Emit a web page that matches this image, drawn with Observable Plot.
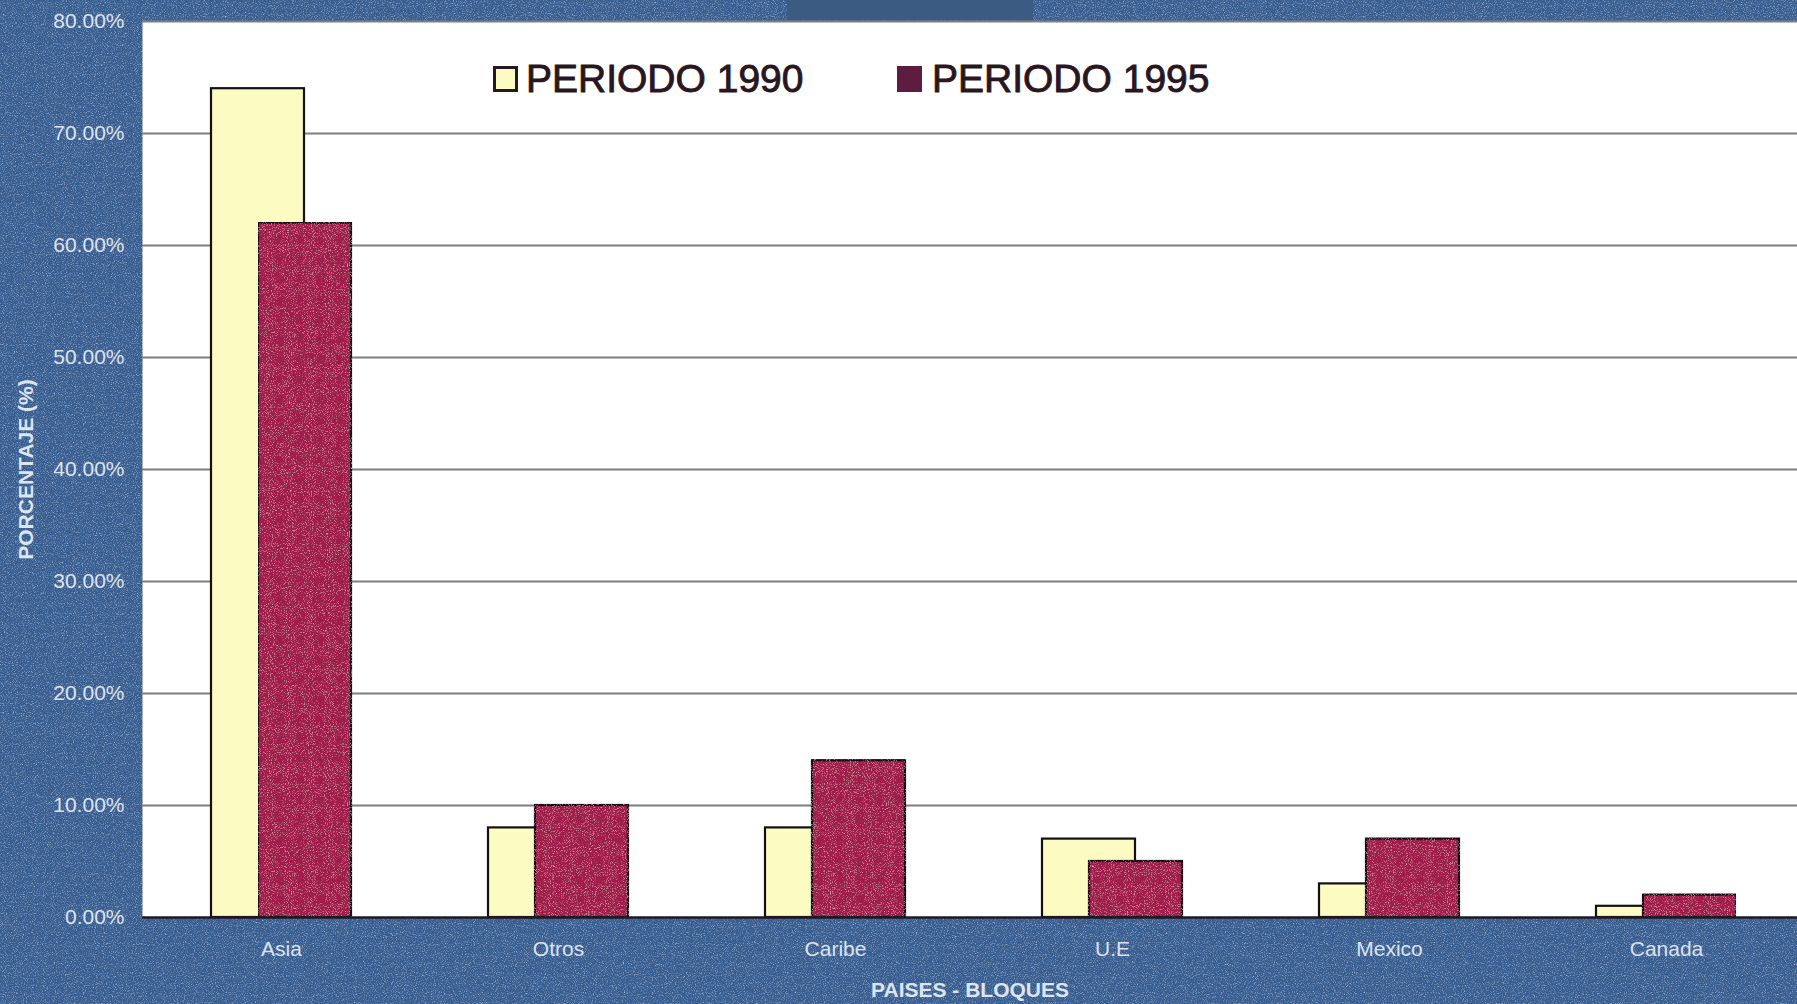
<!DOCTYPE html>
<html>
<head>
<meta charset="utf-8">
<script src="https://cdn.jsdelivr.net/npm/d3@7"></script>
<script src="https://cdn.jsdelivr.net/npm/@observablehq/plot@0.6"></script>
<style>
  html, body { margin: 0; padding: 0; width: 1797px; height: 1004px; overflow: hidden; background: #365d91; }
  #page { position: relative; width: 1797px; height: 1004px; }
  #bg { position: absolute; left: 0; top: 0; }
  #tab { position: absolute; left: 787px; top: 0; width: 246px; height: 20px; background: #3b5b82; }
  #chart { position: absolute; left: 0; top: 0; }
  #chart g[aria-label="y-axis label"] text,
  #chart g[aria-label="x-axis label"] text { font-weight: bold; font-size: 21px; fill: #dfe5ee; }
  .legend { position: absolute; top: 0; left: 0; font-family: "Liberation Sans", Arial, sans-serif; }
  .swatch { position: absolute; width: 19px; height: 20px; border: 3px solid #241a1f; }
  .ltext { position: absolute; font-size: 39px; line-height: 39px; color: #2a1620; -webkit-text-stroke: 0.9px #2a1620; white-space: nowrap; }
</style>
</head>
<body>
<div id="page">
  <svg id="bg" width="1797" height="1004">
    <defs>
      <filter id="grainLight" x="0" y="0" width="100%" height="100%">
        <feTurbulence type="fractalNoise" baseFrequency="0.9" numOctaves="2" seed="7"/>
        <feColorMatrix type="matrix" values="0 0 0 0 0.85  0 0 0 0 0.9  0 0 0 0 1  2.6 0 0 0 -1.25"/>
      </filter>
      <filter id="grainDark" x="0" y="0" width="100%" height="100%">
        <feTurbulence type="fractalNoise" baseFrequency="0.8" numOctaves="2" seed="19"/>
        <feColorMatrix type="matrix" values="0 0 0 0 0.06  0 0 0 0 0.12  0 0 0 0 0.26  2.6 0 0 0 -1.15"/>
      </filter>
      <!-- speckled print texture for the dark red bars -->
      <filter id="barGrain" x="0" y="0" width="100%" height="100%">
        <feTurbulence type="fractalNoise" baseFrequency="0.95" numOctaves="2" seed="31" result="noise"/>
        <feColorMatrix in="noise" type="matrix" values="0 0 0 0 0.85  0 0 0 0 0.5  0 0 0 0 0.6  2.2 0 0 0 -1.2" result="specks"/>
        <feComposite in="specks" in2="SourceGraphic" operator="in" result="clipped"/>
        <feMerge><feMergeNode in="SourceGraphic"/><feMergeNode in="clipped"/></feMerge>
      </filter>
    </defs>
    <rect width="1797" height="1004" fill="#365d91"/>
    <rect width="1797" height="1004" filter="url(#grainLight)" opacity="0.6"/>
    <rect width="1797" height="1004" filter="url(#grainDark)" opacity="0.75"/>
  </svg>
  <div id="tab"></div>
  <div id="chart"></div>
  <div class="legend" id="legend"></div>
</div>
<script>
// Share of each country / bloc, in percent
const categories = ["Asia", "Otros", "Caribe", "U.E", "Mexico", "Canada"];
const periodo1990 = [74.0, 8.0, 8.0, 7.0, 3.0, 1.0];
const periodo1995 = [62.0, 10.0, 14.0, 5.0, 7.0, 2.0];
const yTicks = [0, 10, 20, 30, 40, 50, 60, 70, 80];
const seriesNames = ["PERIODO 1990", "PERIODO 1995"];
const seriesColors = ["#fbfbc2", "#a01e4b"];
const legendSwatchColors = ["#fbfbc2", "#5e1d3e"];
const yTitle = "PORCENTAJE (%)";
const xTitle = "PAISES - BLOQUES";

const rows1990 = categories.map((c, i) => ({pais: c, valor: periodo1990[i]}));
const rows1995 = categories.map((c, i) => ({pais: c, valor: periodo1995[i]}));

const chart = Plot.plot({
  width: 1797,
  height: 1004,
  marginLeft: 142,
  marginRight: 0,
  marginTop: 21,
  marginBottom: 87,
  style: {background: "transparent", fontFamily: "'Liberation Sans', Arial, sans-serif", fontSize: "21px", color: "#dde3ec"},
  x: {domain: categories, range: [141, 1806], paddingInner: 0.495, paddingOuter: 0.247, align: 0.5},
  y: {domain: [0, 80]},
  marks: [
    Plot.frame({fill: "white", stroke: null}),
    Plot.ruleY(yTicks.slice(1), {stroke: "#7f7f7f", strokeWidth: 1.8}),
    Plot.barY(rows1990, {x: "pais", y: "valor", fill: seriesColors[0], stroke: "#141014", strokeWidth: 2.2, insetRight: 47}),
    Plot.barY(rows1995, {x: "pais", y: "valor", fill: seriesColors[1], stroke: "#141014", strokeWidth: 2.2, insetLeft: 47}),
    Plot.ruleY([0], {stroke: "#1e1a22", strokeWidth: 2.5}),
    Plot.axisY(yTicks, {tickSize: 0, tickPadding: 18, tickFormat: d => d.toFixed(2) + "%", label: yTitle, labelArrow: "none", labelAnchor: "center", labelOffset: 124}),
    Plot.axisX({tickSize: 0, tickPadding: 24, label: xTitle, labelArrow: "none", labelAnchor: "center", labelOffset: 79})
  ]
});
document.getElementById("chart").appendChild(chart);

// keep axis titles free of direction arrows
const yLab = chart.querySelector('g[aria-label="y-axis label"] text');
if (yLab) yLab.textContent = yTitle;
const xLab = chart.querySelector('g[aria-label="x-axis label"] text');
if (xLab) xLab.textContent = xTitle;

// print texture on the 1995 bars
chart.querySelectorAll('g[aria-label="bar"]').forEach((g, i) => {
  if (i === 1) g.setAttribute("filter", "url(#barGrain)");
});

// Legend drawn inside the plotting area, near the top
const legend = document.getElementById("legend");
const legendPos = [{sx: 493, tx: 526}, {sx: 897, tx: 932}];
seriesNames.forEach((name, i) => {
  const sw = document.createElement("div");
  sw.className = "swatch";
  sw.style.left = legendPos[i].sx + "px";
  sw.style.top = "66px";
  sw.style.background = legendSwatchColors[i];
  if (i === 1) sw.style.borderColor = legendSwatchColors[i];
  legend.appendChild(sw);
  const t = document.createElement("div");
  t.className = "ltext";
  t.style.left = legendPos[i].tx + "px";
  t.style.top = "59px";
  t.textContent = name;
  legend.appendChild(t);
});
</script>
</body>
</html>
